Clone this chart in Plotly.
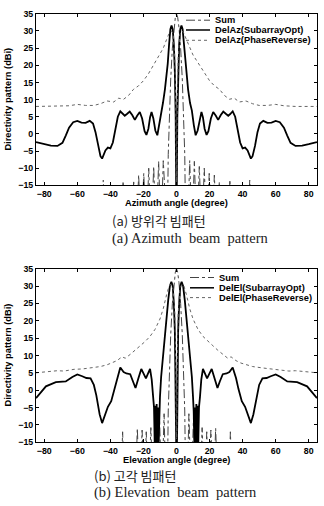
import plotly.graph_objects as go

# ---------------- data ----------------
# Azimuth pattern
az_sum_x = [-85, -45.5, -44.3, -43.1, -33.5, -32.3, -31.1, -27.4, -25.9, -24.4, -22.9, -21.4,
            -19.8, -18.3, -16.8, -15.3, -13.8, -12.3, -10.8, -9.4, -8.0, -6.6, -5.6, -5.0, -4.3,
            -3.5, -2.5, -1.5, -0.7, 0, 0.7, 1.5, 2.5, 3.5, 4.3, 5.0, 5.6, 6.6, 8.0, 9.4, 10.8,
            12.3, 13.8, 15.3, 16.8, 18.3, 19.8, 21.4, 22.9, 24.4, 25.9, 27.4, 31.1, 32.3, 33.5,
            43.1, 44.3, 45.5, 85]
az_sum_y = [-30, -30, -13.5, -30, -30, -13.8, -30, -30, -14.0, -30, -12.0, -30,
            -11.5, -30, -10.0, -30, -9.5, -30, -8.0, -30, -7.8, -30, -30, -6.0, 5.0,
            16.0, 25.0, 31.0, 34.0, 35.0, 34.0, 31.0, 25.0, 16.0, 5.0, -6.0, -30, -30, -7.8, -30, -8.0,
            -30, -9.5, -30, -10.0, -30, -11.5, -30, -12.0, -30, -14.0, -30, -30, -13.8, -30,
            -30, -13.5, -30, -30]

az_opt_x = [-85, -80, -76, -72, -69, -67, -65, -62.5, -60, -57.5, -55, -52.5, -50.5, -49, -47.5,
            -46, -45, -44, -43, -41.5, -40, -38.5, -37, -35.5, -34, -32.5, -31.3, -30, -28.3,
            -26.8, -25.2, -23.8, -22.2, -20.8, -19.3, -18.2, -17, -16, -15.1, -14, -12.8, -11.6,
            -10.5, -9.3, -8.2, -7, -6, -5.3, -4.5, -3.7, -3, -2.3, -1.6, -1, -0.5, -0.2, 0,
            0.2, 0.5, 1, 1.6, 2.3, 3, 3.7, 4.5, 5.3, 6, 7, 8.2, 9.3, 10.5, 11.6, 12.8, 14, 15.1,
            16, 17, 18.2, 19.3, 20.8, 22.2, 23.8, 25.2, 26.8, 28.3, 30, 31.3, 32.5, 34, 35.5, 37,
            38.5, 40, 41.5, 43, 44, 45, 46, 47.5, 49, 50.5, 52.5, 55, 57.5, 60, 62.5, 65, 67, 69,
            72, 76, 80, 85]
az_opt_y = [-2.4, -3.0, -3.4, -3.5, -2.6, -0.5, 1.8, 3.4, 3.8, 3.3, 3.2, 3.8, 3.0, 0.5, -3.5,
            -6.5, -7.2, -6.2, -4.8, -4.0, -4.2, -2.5, 1.4, 5.0, 6.6, 5.8, 5.3, 5.8, 6.5,
            5.5, 4.1, 5.3, 6.4, 4.5, 0.8, -0.3, 1.5, 4.8, 6.4, 4.5, 1.0, -0.4,
            2.5, 6.8, 9.0, 13.0, 17.0, 20.5, 26.0, 30.5, 31.6, 30.5, 26.0, 18.0, 5.0, -15.0, -30,
            -15.0, 5.0, 18.0, 26.0, 30.5, 31.6, 30.5, 26.0, 20.5, 17.0, 13.0, 9.0, 6.8, 2.5, -0.4, 1.0, 4.5, 6.4,
            4.8, 1.5, -0.3, 0.8, 4.5, 6.4, 5.3, 4.1, 5.5, 6.5, 5.8, 5.3, 5.8, 6.6, 5.0, 1.4,
            -2.5, -4.2, -4.0, -4.8, -6.2, -7.2, -6.5, -3.5, 0.5, 3.0, 3.8, 3.2, 3.3, 3.8, 3.4, 1.8, -0.5, -2.6,
            -3.5, -3.4, -3.0, -2.4]

az_rev_x = [-85, -78, -72, -65, -60, -55, -50, -46, -42, -38, -35, -32, -29, -26, -23, -20, -17,
            -14, -12, -10, -8, -6, -4.3, -3, -2, -1, -0.3, 0, 0.3, 1, 2, 3, 4.3, 6, 8, 10, 12, 14,
            17, 20, 23, 26, 29, 32, 35, 38, 42, 46, 50, 55, 60, 65, 72, 78, 85]
az_rev_y = [8.0, 8.0, 8.0, 8.2, 8.6, 8.3, 8.3, 8.8, 9.6, 9.3, 10.4, 10.1, 11.2, 13.0, 14.0, 15.5, 17.5,
            20.0, 21.5, 23.0, 25.0, 27.5, 29.5, 30.0, 29.0, 22.0, 5.0, -30, 5.0, 22.0, 29.0, 30.0, 29.5, 27.5, 25.0, 23.0, 21.5, 20.0,
            17.5, 15.5, 14.0, 13.0, 11.2, 10.1, 10.4, 9.3, 9.6, 8.8, 8.3, 8.3, 8.6, 8.2, 8.0, 8.0, 8.0]

# Elevation pattern
el_sum_x = [-85, -33.8, -32.6, -31.4, -25.0, -23.7, -22.3, -20.8, -19.5, -18.3, -17.0, -15.5,
            -14.2, -13.0, -11.7, -10.3, -8.9, -7.5, -6.4, -5.6, -5.0, -4.3, -3.5, -2.5, -1.5,
            -0.7, 0, 0.7, 1.5, 2.5, 3.5, 4.3, 5.0, 5.6, 6.4, 7.5, 8.9, 10.3, 11.7, 13.0, 14.2,
            15.5, 17.0, 18.3, 19.5, 20.8, 22.3, 23.7, 25.0, 31.4, 32.6, 33.8, 85]
el_sum_y = [-30, -30, -12.0, -30, -30, -11.0, -30, -11.5, -30, -12.0, -30, -10.8,
            -30, -9.3, -30, -7.5, -30, -6.8, -30, -30, -6.0, 5.0, 16.0, 25.0, 31.0,
            34.0, 35.0, 34.0, 31.0, 25.0, 16.0, 5.0, -6.0, -30, -30, -6.8, -30, -7.5, -30, -9.3, -30,
            -10.8, -30, -12.0, -30, -11.5, -30, -11.0, -30, -30, -12.0, -30, -30]

el_opt_x = [-85, -79, -73, -67, -63, -60, -57, -54.5, -52, -50, -48.5, -46.5, -45, -43.5, -41.5,
            -39.5, -37.5, -36, -34, -32, -30.3, -28, -26.2, -24.8, -23, -21.3, -18.5, -16,
            -15, -14.2, -13.6, -13.2, -12.8, -12.4, -12, -11.6, -11.2, -10.8, -10.4, -10, -9.3,
            -8.3, -7.3, -6.2, -5, -4, -3.1, -2.3, -1.6, -1, -0.5, -0.2, 0,
            0.2, 0.5, 1, 1.6, 2.3, 3.1, 4, 5, 6.2, 7.3, 8.3, 9.3, 10, 10.4, 10.8, 11.2, 11.6, 12,
            12.4, 12.8, 13.2, 13.6, 14.2, 15, 16, 18.5, 21.3, 23, 24.8, 26.2, 28, 30.3, 32, 34,
            36, 37.5, 39.5, 41.5, 43.5, 45, 46.5, 48.5, 50, 52, 54.5, 57, 60, 63, 67, 73, 79, 85]
el_opt_y = [-2.3, 1.1, 2.3, 2.5, 3.8, 4.5, 4.0, 3.5, 3.4, 1.5, -1.5, -7.0, -9.5, -7.5, -4.8,
            -3.2, 0.3, 3.5, 6.5, 5.2, 4.8, 4.6, 2.5, 0.6, 3.5, 6.1, 3.4, 6.1,
            3.0, -2.0, -5.0, -15, -4.5, -15, -4.0, -15, -5.0, -15, -6.0, -2.0, 3.8,
            9.5, 14.7, 20.2, 26.0, 30.0, 31.2, 30.0, 25.0, 17.0, 4.0, -15, -30,
            -15, 4.0, 17.0, 25.0, 30.0, 31.2, 30.0, 26.0, 20.2, 14.7, 9.5, 3.8, -2.0, -6.0, -15, -5.0, -15, -4.0,
            -15, -4.5, -15, -5.0, -2.0, 3.0, 6.1, 3.4, 6.1, 3.5, 0.6, 2.5, 4.6, 4.8, 5.2, 6.5,
            3.5, 0.3, -3.2, -4.8, -7.5, -9.5, -7.0, -1.5, 1.5, 3.4, 3.5, 4.0, 4.5, 3.8, 2.5, 2.3, 1.1, -2.3]

el_rev_x = [-85, -78, -72, -68, -62, -57, -52, -46, -42, -39, -36, -33, -31, -28, -25, -22, -19,
            -16, -13, -10, -8, -6, -4.5, -3.2, -2, -1, -0.3, 0, 0.3, 1, 2, 3.2, 4.5, 6, 8, 10, 13,
            16, 19, 22, 25, 28, 31, 33, 36, 39, 42, 46, 52, 57, 62, 68, 72, 78, 85]
el_rev_y = [5.0, 5.4, 5.6, 5.5, 6.0, 6.1, 6.4, 6.8, 7.3, 7.8, 8.5, 9.6, 9.2, 10.3, 11.5, 12.8, 14.0,
            15.5, 17.5, 20.5, 23.5, 27.5, 30.0, 30.5, 29.0, 22.0, 5.0, -30, 5.0, 22.0, 29.0, 30.5, 30.0, 27.5, 23.5, 20.5, 17.5,
            15.5, 14.0, 12.8, 11.5, 10.3, 9.2, 9.6, 8.5, 7.8, 7.3, 6.8, 6.4, 6.1, 6.0, 5.5, 5.6, 5.4, 5.0]

x_ticks = [-80, -60, -40, -20, 0, 20, 40, 60, 80]
y_ticks = [-15, -10, -5, 0, 5, 10, 15, 20, 25, 30, 35]

legend_top = ["Sum", "DelAz(SubarrayOpt)", "DelAz(PhaseReverse)"]
legend_bot = ["Sum", "DelEl(SubarrayOpt)", "DelEl(PhaseReverse)"]
x_titles = ["Azimuth angle (degree)", "Elevation angle (degree)"]
y_title = "Directivity pattern (dBi)"
captions_kr = ["(a) 방위각 빔패턴", "(b) 고각 빔패턴"]
captions_en = ["(a) Azimuth  beam  pattern", "(b) Elevation  beam  pattern"]

# ---------------- figure ----------------
W, H = 324, 506
SUM_STYLE = dict(color="#444444", width=1, dash="dashdot")
OPT_STYLE = dict(color="#000000", width=1.8, dash="solid")
REV_STYLE = dict(color="#666666", width=1, dash="dot")

fig = go.Figure()
fig.add_trace(go.Scatter(x=az_sum_x, y=az_sum_y, mode="lines", line=SUM_STYLE, xaxis="x", yaxis="y", showlegend=False))
fig.add_trace(go.Scatter(x=az_opt_x, y=az_opt_y, mode="lines", line=OPT_STYLE, xaxis="x", yaxis="y", showlegend=False))
fig.add_trace(go.Scatter(x=az_rev_x, y=az_rev_y, mode="lines", line=REV_STYLE, xaxis="x", yaxis="y", showlegend=False))
fig.add_trace(go.Scatter(x=el_sum_x, y=el_sum_y, mode="lines", line=SUM_STYLE, xaxis="x2", yaxis="y2", showlegend=False))
fig.add_trace(go.Scatter(x=el_opt_x, y=el_opt_y, mode="lines", line=OPT_STYLE, xaxis="x2", yaxis="y2", showlegend=False))
fig.add_trace(go.Scatter(x=el_rev_x, y=el_rev_y, mode="lines", line=REV_STYLE, xaxis="x2", yaxis="y2", showlegend=False))

def px_x(p):
    return p / W

def px_y(p):
    return 1 - p / H

tickfont = dict(family="Liberation Sans", size=8.8, color="black", weight="bold")
ax_common = dict(showline=True, linecolor="black", linewidth=1, mirror="ticks", ticks="inside",
                 ticklen=3, tickcolor="black", showgrid=False, zeroline=False, tickfont=tickfont)

xdom = [px_x(36), px_x(317)]
fig.update_layout(
    width=W, height=H, margin=dict(l=0, r=0, t=0, b=0),
    paper_bgcolor="white", plot_bgcolor="white",
    xaxis=dict(domain=xdom, range=[-85, 85], tickvals=x_ticks, anchor="y", ticklabelstandoff=0, **ax_common),
    yaxis=dict(domain=[px_y(184), px_y(9)], range=[-15, 35], tickvals=y_ticks, anchor="x", **ax_common),
    xaxis2=dict(domain=xdom, range=[-85, 85], tickvals=x_ticks, anchor="y2", ticklabelstandoff=0, **ax_common),
    yaxis2=dict(domain=[px_y(446), px_y(269)], range=[-15, 35], tickvals=y_ticks, anchor="x2", **ax_common),
)

ann = []
shapes = []
title_font = dict(family="Liberation Sans", size=9.3, color="black", weight="bold")
# axis titles
for xt, ycen, ytc in [(x_titles[0], 202.5, 96.5), (x_titles[1], 464.5, 357.5)]:
    ann.append(dict(text=xt, x=px_x(176), y=px_y(ycen), xref="paper", yref="paper",
                    showarrow=False, font=title_font, xanchor="center", yanchor="middle"))
    ann.append(dict(text=y_title, x=px_x(8), y=px_y(ytc), xref="paper", yref="paper", textangle=-90,
                    showarrow=False, font=title_font, xanchor="center", yanchor="middle"))

# legends
leg_font = dict(family="Liberation Sans", size=9.3, color="black", weight="bold")
styles = [SUM_STYLE, OPT_STYLE, REV_STYLE]
for labels, rows, x0, x1, xt in [(legend_top, [15.5, 25.5, 36], 186, 210, 213),
                                 (legend_bot, [278, 288.5, 298.5], 190, 214, 217)]:
    for lab, ry, st in zip(labels, rows, styles):
        shapes.append(dict(type="line", xref="paper", yref="paper", x0=px_x(x0), x1=px_x(x1),
                           y0=px_y(ry), y1=px_y(ry), line=dict(color=st["color"], width=min(st["width"], 1.5), dash=st["dash"])))
        ann.append(dict(text=lab, x=px_x(xt), y=px_y(ry), xref="paper", yref="paper", showarrow=False,
                        font=leg_font, xanchor="left", yanchor="middle"))

# captions
kr_font = dict(family="Noto Sans CJK KR", size=13, color="#222222")
en_font = dict(family="Liberation Serif", size=14.5, color="#222222")
for kr, en, xl, yk, ye in [(captions_kr[0], captions_en[0], 110, 220, 238),
                           (captions_kr[1], captions_en[1], 92, 480, 497.5)]:
    ann.append(dict(text=kr, x=px_x(xl), y=px_y(yk), xref="paper", yref="paper", showarrow=False,
                    font=kr_font, xanchor="left", yanchor="middle"))
    ann.append(dict(text=en, x=px_x(xl), y=px_y(ye), xref="paper", yref="paper", showarrow=False,
                    font=en_font, xanchor="left", yanchor="middle"))

fig.update_layout(annotations=ann, shapes=shapes)
fig.write_html("out.html")
